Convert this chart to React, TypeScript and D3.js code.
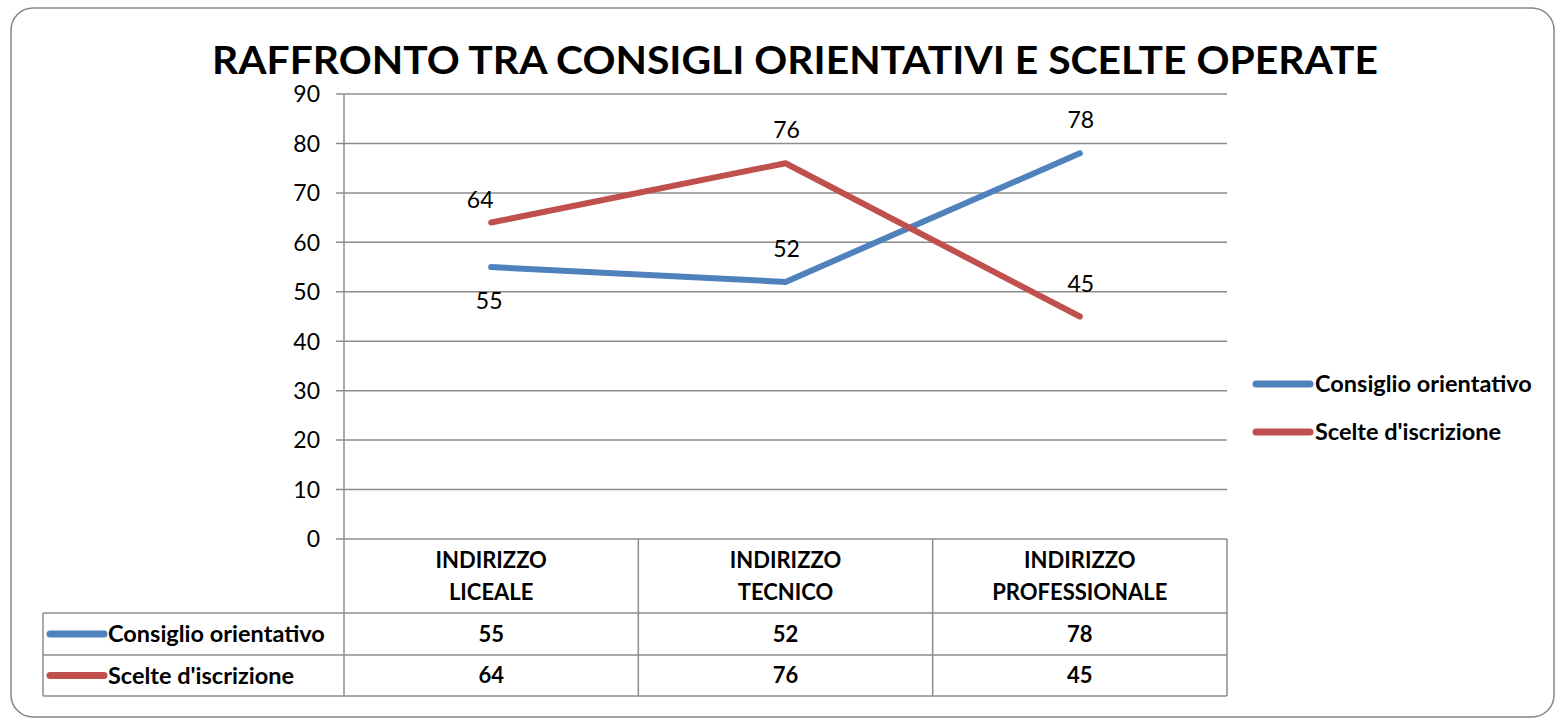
import * as d3 from 'd3';

// chart data
const categories = ['INDIRIZZO LICEALE', 'INDIRIZZO TECNICO', 'INDIRIZZO PROFESSIONALE'];
const headerLines = [['INDIRIZZO', 'LICEALE'], ['INDIRIZZO', 'TECNICO'], ['INDIRIZZO', 'PROFESSIONALE']];
const consiglio = [55, 52, 78];
const scelte = [64, 76, 45];
const yTicks = [0, 10, 20, 30, 40, 50, 60, 70, 80, 90];

// where each data label sits relative to its point
const placement: Record<string, { dx: number; dy: number }> = {
  above: { dx: 1, dy: -25 },
  below: { dx: -2, dy: 42 },
  aboveLeft: { dx: -11, dy: -15 },
};

const series = [
  { name: 'Consiglio orientativo', values: consiglio, color: '#4F81BD', labels: ['below', 'above', 'above'] },
  { name: "Scelte d'iscrizione", values: scelte, color: '#C0504D', labels: ['aboveLeft', 'above', 'above'] },
];

const FONT = 'Lato, "Open Sans", sans-serif';

export default function App() {
  const width = 1562;
  const height = 720;

  // plot box
  const left = 344;
  const right = 1227;
  const top = 94;
  const bottom = 539;
  const tableLeft = 43;
  const rowY = [539, 613, 655, 696];

  const x = d3.scaleBand<string>().domain(categories).range([left, right]);
  const y = d3.scaleLinear().domain([0, 90]).range([bottom, top]);
  const cx = (c: string) => (x(c) ?? 0) + x.bandwidth() / 2;

  const line = d3.line<number>()
    .x((_, i) => cx(categories[i]))
    .y(d => y(d));

  const grid = '#8c8c8c';

  return (
    <svg width={width} height={height} style={{ position: 'absolute', left: 0, top: 0 }} fontFamily={FONT}>
      <rect x={0} y={0} width={width} height={height} fill="#fff" />
      {/* outer frame */}
      <rect x={11} y={8} width={1543} height={709} rx={22} fill="none" stroke="#868686" strokeWidth={1.5} />

      <text x={795} y={74} textAnchor="middle" fontSize={39} fontWeight="bold" fill="#000"
        textLength={1166} lengthAdjust="spacingAndGlyphs">
        RAFFRONTO TRA CONSIGLI ORIENTATIVI E SCELTE OPERATE
      </text>

      {/* gridlines + y ticks */}
      {yTicks.map(t => (
        <g key={t}>
          <line x1={336} x2={right} y1={y(t)} y2={y(t)} stroke={grid} strokeWidth={1.5} />
          <text x={320} y={y(t)} dy="0.36em" textAnchor="end" fontSize={23} fill="#000">{t}</text>
        </g>
      ))}

      {/* axis + table verticals */}
      <line x1={left} x2={left} y1={top} y2={rowY[3]} stroke={grid} strokeWidth={1.5} />
      {categories.map((c, i) => i > 0 && (
        <line key={c} x1={x(c)} x2={x(c)} y1={bottom} y2={rowY[3]} stroke={grid} strokeWidth={1.5} />
      ))}
      <line x1={right} x2={right} y1={bottom} y2={rowY[3]} stroke={grid} strokeWidth={1.5} />
      <line x1={tableLeft} x2={tableLeft} y1={rowY[1]} y2={rowY[3]} stroke={grid} strokeWidth={1.5} />
      {rowY.slice(1).map(ry => (
        <line key={ry} x1={tableLeft} x2={right} y1={ry} y2={ry} stroke={grid} strokeWidth={1.5} />
      ))}

      {/* table header */}
      {categories.map((c, i) => (
        <text key={c} x={cx(c)} textAnchor="middle" fontSize={22} fontWeight="bold" fill="#000">
          <tspan x={cx(c)} y={568}>{headerLines[i][0]}</tspan>
          <tspan x={cx(c)} y={600}>{headerLines[i][1]}</tspan>
        </text>
      ))}

      {/* table rows */}
      {series.map((s, si) => {
        const mid = (rowY[si + 1] + rowY[si + 2]) / 2;
        return (
          <g key={s.name}>
            <line x1={50} x2={104} y1={mid} y2={mid} stroke={s.color} strokeWidth={7} strokeLinecap="round" />
            <text x={108} y={mid} dy="0.36em" fontSize={23.5} fontWeight="bold" fill="#000">{s.name}</text>
            {s.values.map((v, i) => (
              <text key={i} x={cx(categories[i])} y={mid} dy="0.36em" textAnchor="middle" fontSize={22} fontWeight="bold" fill="#000">{v}</text>
            ))}
          </g>
        );
      })}

      {/* series lines */}
      {series.map(s => (
        <path key={s.name} d={line(s.values) ?? ''} fill="none" stroke={s.color} strokeWidth={6} strokeLinecap="round" strokeLinejoin="round" />
      ))}

      {/* data labels */}
      {series.map(s => s.values.map((v, i) => {
        const p = placement[s.labels[i]];
        return (
          <text key={s.name + i} x={cx(categories[i]) + p.dx} y={y(v) + p.dy}
            textAnchor="middle" fontSize={23} fill="#000">{v}</text>
        );
      }))}

      {/* legend */}
      {series.map((s, si) => {
        const ly = 384 + si * 48;
        return (
          <g key={s.name}>
            <line x1={1256} x2={1310} y1={ly} y2={ly} stroke={s.color} strokeWidth={7} strokeLinecap="round" />
            <text x={1315} y={ly} dy="0.36em" fontSize={23.5} fontWeight="bold" fill="#000">{s.name}</text>
          </g>
        );
      })}
    </svg>
  );
}
